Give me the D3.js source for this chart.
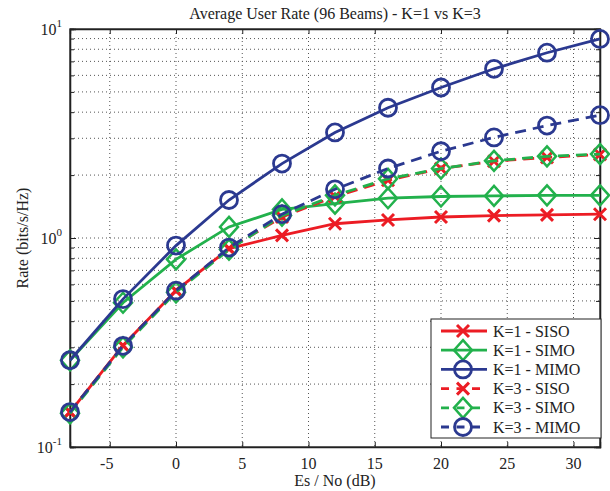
<!DOCTYPE html>
<html><head><meta charset="utf-8">
<script src="https://cdn.jsdelivr.net/npm/d3@7"></script>
<style>
body{margin:0;background:#fff;}
svg text{font-family:"Liberation Serif","Times New Roman",serif;fill:#222;}
</style></head><body>
<svg id="c" width="610" height="491"></svg>
<script>
const snr = [-8,-4,0,4,8,12,16,20,24,28,32];
const k1Siso = [0.147,0.306,0.56,0.89,1.03,1.17,1.22,1.26,1.28,1.29,1.30];
const k1Simo = [0.26,0.49,0.79,1.13,1.37,1.46,1.55,1.58,1.59,1.60,1.60];
const k1Mimo = [0.26,0.51,0.92,1.52,2.27,3.2,4.2,5.25,6.45,7.7,8.96];
const k3Siso = [0.147,0.305,0.56,0.89,1.26,1.58,1.89,2.15,2.33,2.43,2.51];
const k3Simo = [0.145,0.30,0.55,0.88,1.28,1.6,1.92,2.15,2.34,2.46,2.52];
const k3Mimo = [0.147,0.305,0.56,0.9,1.3,1.71,2.15,2.6,3.03,3.45,3.87];
const seriesNames = ["K=1 - SISO","K=1 - SIMO","K=1 - MIMO","K=3 - SISO","K=3 - SIMO","K=3 - MIMO"];
const xTicks = [-5,0,5,10,15,20,25,30];
const yExps = [-1,0,1];

const colors = {SISO:"#ec1c24", SIMO:"#22b14c", MIMO:"#2b3990"};
const series = [
  {name:seriesNames[0], v:k1Siso, c:colors.SISO, m:"x", dash:false},
  {name:seriesNames[1], v:k1Simo, c:colors.SIMO, m:"d", dash:false},
  {name:seriesNames[2], v:k1Mimo, c:colors.MIMO, m:"o", dash:false},
  {name:seriesNames[3], v:k3Siso, c:colors.SISO, m:"x", dash:true},
  {name:seriesNames[4], v:k3Simo, c:colors.SIMO, m:"d", dash:true},
  {name:seriesNames[5], v:k3Mimo, c:colors.MIMO, m:"o", dash:true}
];

const L=70,R=600,T=29,B=447;
const svg=d3.select("#c");
const x=d3.scaleLinear().domain([-8,32]).range([L,R]);
const y=d3.scaleLog().domain([0.1,10]).range([B,T]);

// grid
const g=svg.append("g");
const minorY=[];
for(let e=-1;e<1;e++) for(let k=1;k<10;k++) minorY.push(k*Math.pow(10,e));
minorY.push(10);
g.selectAll("line.gy").data(minorY.filter(v=>v>0.1&&v<10)).enter().append("line")
 .attr("x1",L).attr("x2",R).attr("y1",d=>y(d)).attr("y2",d=>y(d))
 .attr("stroke","#555").attr("stroke-width",1).attr("stroke-dasharray","1,3");
g.selectAll("line.gx").data(xTicks).enter().append("line")
 .attr("x1",d=>x(d)).attr("x2",d=>x(d)).attr("y1",T).attr("y2",B)
 .attr("stroke","#555").attr("stroke-width",1).attr("stroke-dasharray","1,3");

// axes ticks (inward)
const axB=d3.axisBottom(x).tickValues(xTicks).tickSize(-5).tickFormat("");
const axT=d3.axisTop(x).tickValues(xTicks).tickSize(-5).tickFormat("");
svg.append("g").attr("transform",`translate(0,${B})`).call(axB);
svg.append("g").attr("transform",`translate(0,${T})`).call(axT);
const axL=d3.axisLeft(y).tickValues(minorY).tickSize(-4).tickFormat("");
const axR=d3.axisRight(y).tickValues(minorY).tickSize(-4).tickFormat("");
svg.append("g").attr("transform",`translate(${L},0)`).call(axL);
svg.append("g").attr("transform",`translate(${R},0)`).call(axR);
svg.append("g").attr("transform",`translate(${L},0)`).call(d3.axisLeft(y).tickValues(yExps.map(e=>Math.pow(10,e))).tickSize(-6).tickFormat(""));
svg.append("g").attr("transform",`translate(${R},0)`).call(d3.axisRight(y).tickValues(yExps.map(e=>Math.pow(10,e))).tickSize(-6).tickFormat(""));
svg.selectAll(".domain").attr("stroke","#222").attr("stroke-width",1.3);
svg.selectAll(".tick line").attr("stroke","#222");
// x tick labels
svg.selectAll("text.xt").data(xTicks).enter().append("text")
  .attr("x",d=>x(d)-(d<0?3:0)).attr("y",469).attr("text-anchor","middle")
  .style("font-size","16px").text(d=>d<0?"-"+Math.abs(d):d);
// box
svg.append("rect").attr("x",L).attr("y",T).attr("width",R-L).attr("height",B-T)
 .attr("fill","none").attr("stroke","#222").attr("stroke-width",1.3);

// y tick labels
yExps.forEach(e=>{
  const t=svg.append("text").attr("x",L-8).attr("y",y(Math.pow(10,e))+6)
    .attr("text-anchor","end").style("font-size","16px");
  t.append("tspan").text("10");
  t.append("tspan").attr("dy",-8).style("font-size","11px").text(e);
});

// lines
const line=d3.line().x((d,i)=>x(snr[i])).y(d=>y(d));
function marker(sel,m,c){
  if(m==="x"){
    sel.append("path").attr("d","M-6,-6L6,6M-6,6L6,-6").attr("stroke",c).attr("stroke-width",3).attr("fill","none");
  } else if(m==="d"){
    sel.append("path").attr("d","M0,-10L9,0L0,10L-9,0Z").attr("stroke",c).attr("stroke-width",2.5).attr("fill","none");
  } else {
    sel.append("circle").attr("r",8.5).attr("stroke",c).attr("stroke-width",2.8).attr("fill","none");
  }
}
series.forEach(s=>{
  const gs=svg.append("g");
  gs.append("path").datum(s.v).attr("d",line).attr("fill","none")
    .attr("stroke",s.c).attr("stroke-width",2.8)
    .attr("stroke-dasharray",s.dash?"11,7":null);
  s.v.forEach((v,i)=>{
    const mg=gs.append("g").attr("transform",`translate(${x(snr[i])},${y(v)})`);
    marker(mg,s.m,s.c);
  });
});

// legend
const lg=svg.append("g");
lg.append("rect").attr("x",431).attr("y",319).attr("width",170).attr("height",119)
  .attr("fill","#fff").attr("stroke","#222").attr("stroke-width",1);
series.forEach((s,i)=>{
  const yy=331+i*19.2;
  lg.append("line").attr("x1",441).attr("x2",487).attr("y1",yy).attr("y2",yy)
    .attr("stroke",s.c).attr("stroke-width",2.8).attr("stroke-dasharray",s.dash?"8,7.5":null);
  const mg=lg.append("g").attr("transform",`translate(463,${yy})`);
  marker(mg,s.m,s.c);
  lg.append("text").attr("x",493).attr("y",yy+5.5).style("font-size","16px").text(s.name);
});

// titles
svg.append("text").attr("x",(L+R)/2).attr("y",19).attr("text-anchor","middle")
  .style("font-size","16px").text("Average User Rate (96 Beams) - K=1 vs K=3");
svg.append("text").attr("x",(L+R)/2).attr("y",486).attr("text-anchor","middle")
  .style("font-size","16px").text("Es / No (dB)");
svg.append("text").attr("transform",`translate(28,${(T+B)/2}) rotate(-90)`).attr("text-anchor","middle")
  .style("font-size","16px").text("Rate (bits/s/Hz)");
</script></body></html>
